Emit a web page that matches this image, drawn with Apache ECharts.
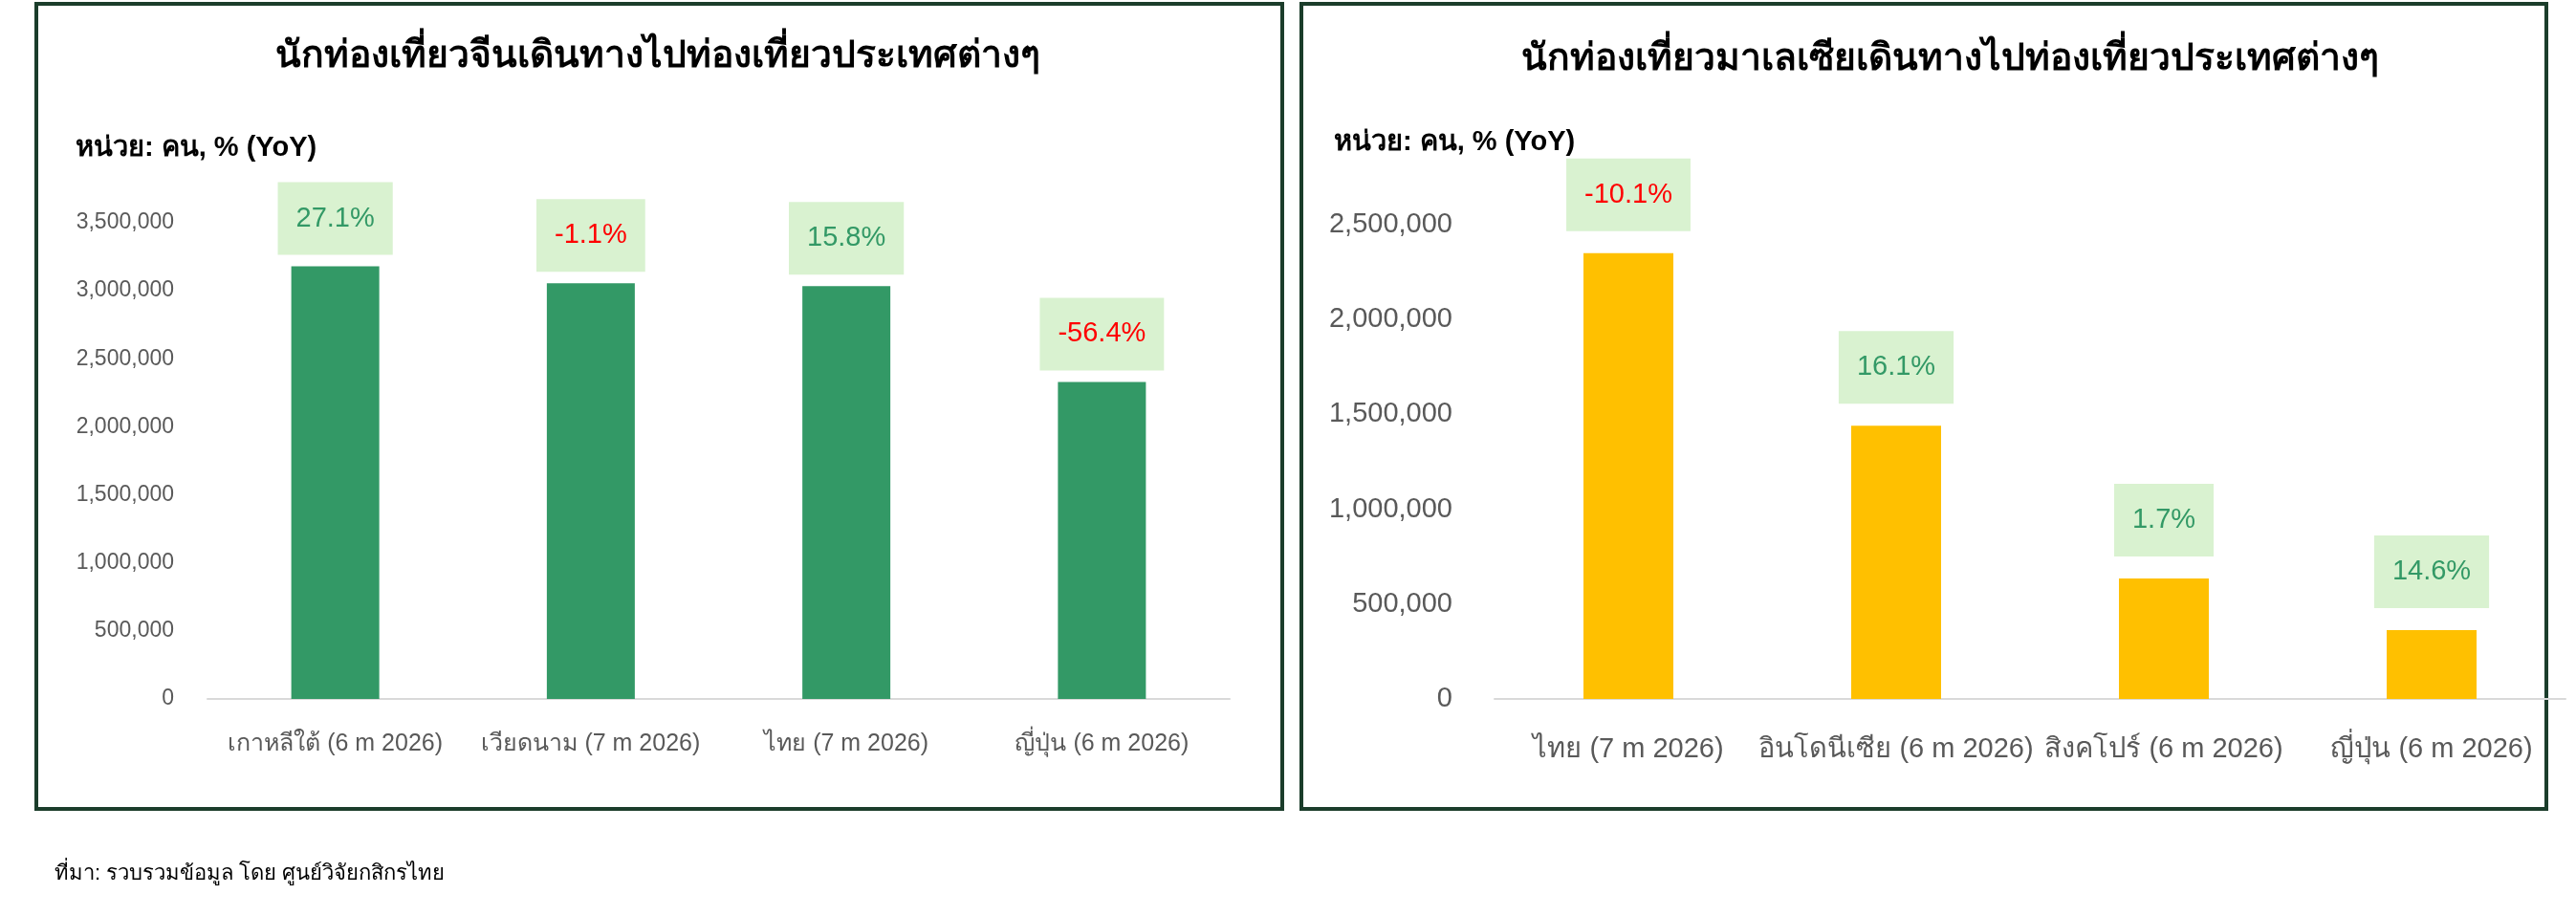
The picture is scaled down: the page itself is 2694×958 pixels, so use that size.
<!DOCTYPE html>
<html>
<head>
<meta charset="utf-8">
<script src="https://cdn.jsdelivr.net/npm/echarts@6/dist/echarts.min.js"></script>
<style>
html, body { margin: 0; padding: 0; background: #fff; }
#main { width: 2694px; height: 958px; }
</style>
</head>
<body>
<div id="main"></div>
<script>
// ข้อมูลนักท่องเที่ยวจีน
const chinaDest = ["เกาหลีใต้ (6 m 2026)", "เวียดนาม (7 m 2026)", "ไทย (7 m 2026)", "ญี่ปุ่น (6 m 2026)"];
const chinaVisitors = [3180000, 3055000, 3035000, 2330000];
const chinaYoY = [27.1, -1.1, 15.8, -56.4];

// ข้อมูลนักท่องเที่ยวมาเลเซีย
const malayDest = ["ไทย (7 m 2026)", "อินโดนีเซีย (6 m 2026)", "สิงคโปร์ (6 m 2026)", "ญี่ปุ่น (6 m 2026)"];
const malayVisitors = [2350000, 1440000, 635000, 363000];
const malayYoY = [-10.1, 16.1, 1.7, 14.6];

const FONT = "'Liberation Sans', 'Noto Sans', sans-serif";
const GREEN = "#339966";
const RED = "#ff0000";

var chart = echarts.init(document.getElementById("main"));

function withLabels(values, yoy) {
    return values.map(function (v, i) {
        return {
            value: v,
            label: { color: yoy[i] < 0 ? RED : GREEN }
        };
    });
}

function barLabel(yoy, dist) {
    return {
        show: true,
        position: "top",
        distance: dist,
        backgroundColor: "#d9f2d0",
        padding: [21, 19],
        fontSize: 29,
        lineHeight: 34,
        fontFamily: FONT,
        formatter: function (p) {
            return yoy[p.dataIndex].toFixed(1) + "%";
        }
    };
}

function fmt(v) {
    return v.toLocaleString("en-US");
}

chart.setOption({
    animation: false,
    textStyle: { fontFamily: FONT },
    title: [
        {
            text: "นักท่องเที่ยวจีนเดินทางไปท่องเที่ยวประเทศต่างๆ",
            left: 683, top: 35, textAlign: "center",
            textStyle: { fontSize: 39, fontWeight: "bold", color: "#000", fontFamily: FONT }
        },
        {
            text: "นักท่องเที่ยวมาเลเซียเดินทางไปท่องเที่ยวประเทศต่างๆ",
            left: 2034, top: 38, textAlign: "center",
            textStyle: { fontSize: 39, fontWeight: "bold", color: "#000", fontFamily: FONT }
        },
        {
            text: "หน่วย: คน, % (YoY)",
            left: 74, top: 135,
            textStyle: { fontSize: 29, fontWeight: "bold", color: "#000", fontFamily: FONT }
        },
        {
            text: "หน่วย: คน, % (YoY)",
            left: 1390, top: 129,
            textStyle: { fontSize: 29, fontWeight: "bold", color: "#000", fontFamily: FONT }
        },
        {
            text: "ที่มา: รวบรวมข้อมูล โดย ศูนย์วิจัยกสิกรไทย",
            left: 52, top: 898,
            textStyle: { fontSize: 22, fontWeight: "normal", color: "#000", fontFamily: FONT }
        }
    ],
    graphic: [
        {
            type: "rect", z: -1,
            shape: { x: 38, y: 4, width: 1303, height: 842 },
            style: { fill: "none", stroke: "#1b3d2b", lineWidth: 4 }
        },
        {
            type: "rect", z: -1,
            shape: { x: 1361, y: 4, width: 1302, height: 842 },
            style: { fill: "none", stroke: "#1b3d2b", lineWidth: 4 }
        }
    ],
    grid: [
        { left: 217, right: 1408, top: 233, bottom: 227 },
        { left: 1563, right: 11, top: 235, bottom: 227 }
    ],
    xAxis: [
        {
            type: "category", gridIndex: 0, data: chinaDest,
            axisLine: { lineStyle: { color: "#d9d9d9", width: 2 } },
            axisTick: { show: false },
            axisLabel: { interval: 0, margin: 35, fontSize: 25, color: "#595959", fontFamily: FONT }
        },
        {
            type: "category", gridIndex: 1, data: malayDest,
            axisLine: { lineStyle: { color: "#d9d9d9", width: 2 } },
            axisTick: { show: false },
            axisLabel: { interval: 0, margin: 38, fontSize: 29, color: "#595959", fontFamily: FONT }
        }
    ],
    yAxis: [
        {
            type: "value", gridIndex: 0, min: 0, max: 3500000, interval: 500000,
            splitLine: { show: false },
            axisLabel: { margin: 35, fontSize: 23, color: "#595959", fontFamily: FONT, formatter: fmt }
        },
        {
            type: "value", gridIndex: 1, min: 0, max: 2500000, interval: 500000,
            splitLine: { show: false },
            axisLabel: { margin: 44, fontSize: 29, color: "#595959", fontFamily: FONT, formatter: fmt }
        }
    ],
    series: [
        {
            type: "bar", xAxisIndex: 0, yAxisIndex: 0,
            barWidth: 92,
            itemStyle: { color: GREEN },
            label: barLabel(chinaYoY, 12),
            data: withLabels(chinaVisitors, chinaYoY)
        },
        {
            type: "bar", xAxisIndex: 1, yAxisIndex: 1,
            barWidth: 94,
            itemStyle: { color: "#ffc000" },
            label: barLabel(malayYoY, 23),
            data: withLabels(malayVisitors, malayYoY)
        }
    ]
});
</script>
</body>
</html>
